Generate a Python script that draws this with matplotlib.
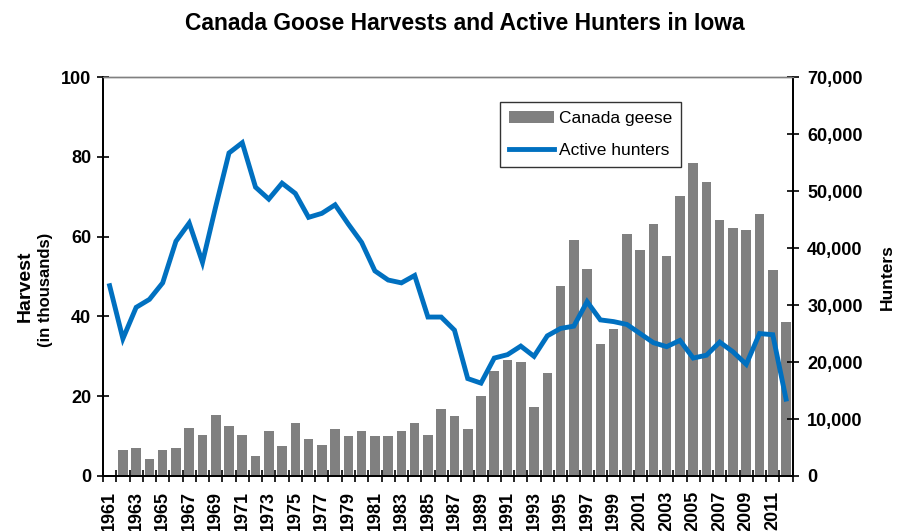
import matplotlib
matplotlib.use("Agg")
import matplotlib.pyplot as plt
import numpy as np

plt.rcParams['font.family'] = ['Liberation Sans', 'DejaVu Sans']

years = np.arange(1961, 2013)
harvest = [np.nan, 6.4, 7.0, 4.2, 6.4, 7.0, 12.1, 10.3, 15.4, 12.5,
           10.3, 4.9, 11.4, 7.4, 13.2, 9.2, 7.8, 11.7, 10.0, 11.4,
           10.0, 10.0, 11.4, 13.2, 10.3, 16.8, 15.0, 11.7, 20.1, 26.3,
           29.1, 28.5, 17.2, 25.9, 47.6, 59.2, 52.0, 33.1, 36.8, 60.7,
           56.7, 63.2, 55.2, 70.1, 78.4, 73.7, 64.3, 62.1, 61.8, 65.8,
           51.6, 38.5]
hunters = [33400, 24100, 29600, 31000, 33900, 41200, 44400, 37500, 47300, 56700,
           58500, 50700, 48600, 51400, 49600, 45400, 46100, 47600, 44200, 41000,
           36000, 34400, 33900, 35200, 27900, 27900, 25600, 17100, 16300, 20700,
           21300, 22800, 21000, 24600, 25900, 26300, 30600, 27400, 27100, 26600,
           25000, 23400, 22700, 23800, 20700, 21200, 23500, 21800, 19600, 25000,
           24800, 13500]

fig = plt.figure(figsize=(8.98, 5.31), dpi=100)
ax = fig.add_axes([0.1147, 0.1036, 0.768, 0.751])
ax2 = ax.twinx()

x = np.arange(len(years))
bars = ax.bar(x, harvest, width=0.72, color='#808080', label='Canada geese', zorder=2)
line, = ax2.plot(x, hunters, color='#0070C0', lw=3.5, solid_joinstyle='miter',
                 label='Active hunters', zorder=3)

ax.set_xlim(-0.5, len(years) - 0.5)
ax.set_ylim(0, 100)
ax2.set_ylim(0, 70000)

ax.set_yticks([0, 20, 40, 60, 80, 100])
ax2.set_yticks(np.arange(0, 70001, 10000))
ax2.set_yticklabels([f"{v:,}" for v in range(0, 70001, 10000)])

# category boundary ticks
ax.set_xticks(np.arange(-0.5, len(years), 1.0))
ax.set_xticklabels([])
ax.tick_params(axis='x', which='major', direction='inout', length=9, width=1.2, color='black')
# year labels at category centers
lab_idx = [i for i, y in enumerate(years) if y % 2 == 1]
ax.set_xticks(lab_idx, minor=True)
ax.set_xticklabels([str(years[i]) for i in lab_idx], minor=True, rotation=90,
                   fontsize=13, fontweight='bold')
ax.tick_params(axis='x', which='minor', length=0, pad=10.5)

ax.tick_params(axis='y', direction='inout', length=9, width=1.2, labelsize=13, pad=4)
for t in ax.get_yticklabels():
    t.set_fontweight('bold')
ax2.tick_params(axis='y', direction='inout', length=9, width=1.2, labelsize=13, pad=6)
for t in ax2.get_yticklabels():
    t.set_fontweight('bold')

for a in (ax, ax2):
    a.spines['top'].set_color('#808080')
    a.spines['top'].set_linewidth(1.0)
    for s in ('left', 'right', 'bottom'):
        a.spines[s].set_color('black')
        a.spines[s].set_linewidth(1.3)

fig.text(0.518, 0.956, 'Canada Goose Harvests and Active Hunters in Iowa',
         ha='center', va='center', fontsize=16.5, fontweight='bold')
fig.text(0.028, 0.46, 'Harvest', rotation=90, ha='center', va='center',
         fontsize=14, fontweight='bold')
fig.text(0.051, 0.455, '(in thousands)', rotation=90, ha='center', va='center',
         fontsize=12, fontweight='bold')
fig.text(0.988, 0.478, 'Hunters', rotation=90, ha='center', va='center',
         fontsize=12.5, fontweight='bold')

leg = ax2.legend([bars, line], ['Canada geese', 'Active hunters'],
                 loc='upper left', bbox_to_anchor=(0.563, 0.96),
                 fontsize=12.5, frameon=True, fancybox=False,
                 edgecolor='black', handlelength=2.6, handletextpad=0.3,
                 borderpad=0.5, labelspacing=1.0)
leg.get_frame().set_linewidth(1.0)

fig.savefig('out.png', dpi=100)
